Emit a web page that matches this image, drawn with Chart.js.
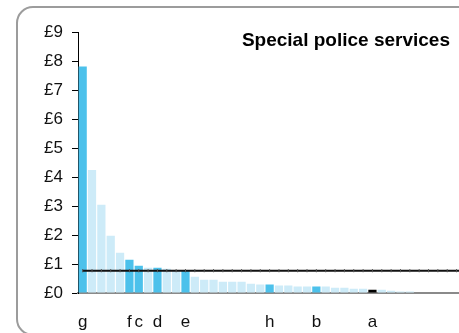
<!DOCTYPE html>
<html>
<head>
<meta charset="utf-8">
<script src="https://cdn.jsdelivr.net/npm/chart.js@4/dist/chart.umd.min.js"></script>
<style>
  html, body { margin: 0; padding: 0; background: #fff; width: 459px; height: 333px; overflow: hidden; }
  #card { position: absolute; left: 16px; top: 6px; width: 520px; height: 330px; border: 2px solid #9c9c9c; border-radius: 17px; box-sizing: border-box; }
  #wrap { position: absolute; left: 0; top: 0; width: 485px; height: 333px; }
</style>
</head>
<body>
<div id="card"></div>
<div id="wrap"><canvas id="c"></canvas></div>
<script>
// ---- data ----
const chartTitle = 'Special police services';
const categories = ['g','','','','','f','c','','d','','','e','','','','','','','','','h','','','','','b','','','','','','a','','','','','','','','','',''];
const spendValues = [7.81, 4.24, 3.04, 1.97, 1.39, 1.15, 0.94, 0.87, 0.87, 0.84, 0.79, 0.78,
  0.56, 0.46, 0.46, 0.39, 0.39, 0.39, 0.32, 0.29, 0.29, 0.26, 0.26, 0.22, 0.22, 0.22, 0.22,
  0.18, 0.18, 0.15, 0.15, 0.11, 0.11, 0.08, 0.05, 0.05, 0, 0, 0, 0, 0, 0];
const averageValue = 0.77;
const yTickValues = [0, 1, 2, 3, 4, 5, 6, 7, 8, 9];

// ---- styles ----
const LIGHT = '#cdebf8';
const DARK = '#4cc1eb';
const BLACK = '#000000';
const barColors = categories.map(c => c === 'a' ? BLACK : (c ? DARK : LIGHT));
const FONT = 'Liberation Sans, Arial, sans-serif';

const titlePlugin = {
  id: 'cornerTitle',
  afterDraw(chart) {
    const ctx = chart.ctx;
    ctx.save();
    ctx.font = 'bold 19px ' + FONT;
    ctx.fillStyle = '#000';
    ctx.textAlign = 'right';
    ctx.textBaseline = 'middle';
    ctx.fillText(chartTitle, 450, 41);
    ctx.restore();
  }
};

new Chart(document.getElementById('c'), {
  type: 'bar',
  data: {
    labels: categories,
    datasets: [
      {
        type: 'line',
        data: categories.map(() => averageValue),
        borderColor: '#111',
        borderWidth: 2,
        pointStyle: 'line',
        rotation: 90,
        pointRadius: 1.6,
        pointBorderWidth: 1,
        pointBorderColor: '#555',
        pointBackgroundColor: '#555',
        fill: false,
        order: 0
      },
      {
        data: spendValues,
        backgroundColor: barColors,
        borderWidth: 0,
        barPercentage: 0.88,
        categoryPercentage: 1.0,
        order: 1
      }
    ]
  },
  options: {
    responsive: true,
    maintainAspectRatio: false,
    devicePixelRatio: 1,
    animation: false,
    layout: { padding: { left: 44, top: 32, right: 7, bottom: 0 } },
    plugins: { legend: { display: false }, tooltip: { enabled: false }, title: { display: false } },
    scales: {
      x: {
        offset: true,
        grid: { display: false, drawTicks: false },
        border: { display: true, color: '#8a8a8a', width: 2 },
        ticks: {
          autoSkip: false, maxRotation: 0, minRotation: 0, padding: 19,
          color: '#111', font: { family: FONT, size: 17 }
        },
        afterFit: s => { s.height = 40; }
      },
      y: {
        min: 0, max: 9,
        afterBuildTicks: s => { s.ticks = yTickValues.map(v => ({ value: v })); },
        grid: { drawOnChartArea: false, drawTicks: true, tickLength: 6, color: '#000' },
        border: { display: true, color: '#000', width: 1 },
        ticks: {
          padding: 9, color: '#111', font: { family: FONT, size: 17 },
          callback: v => '£' + v
        },
        afterFit: s => { s.width = 34; }
      }
    }
  },
  plugins: [titlePlugin]
});
</script>
</body>
</html>
